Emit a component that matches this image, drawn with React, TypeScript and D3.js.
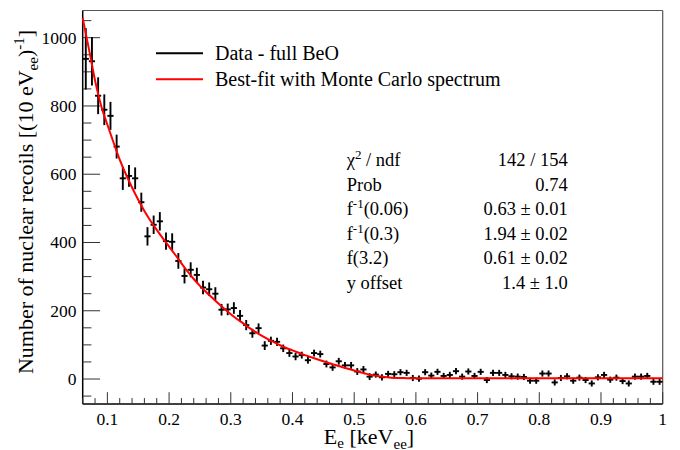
import React from "react";
import * as d3 from "d3";

// ---- data ----
const binWidth = 0.01;
const binStart = 0.06;
const counts = [
  938, 931, 830, 789, 771, 681, 588, 595, 588, 518,
  418, 452, 462, 404, 402, 346, 302, 320, 305, 268,
  263, 250, 203, 204, 208, 185, 158, 134, 149, 98,
  112, 109, 90, 76, 66, 70, 55, 76, 73, 44,
  34, 52, 40, 40, 22, 28, 7, 13, 5, 15,
  14, 20, 18, 3, 1, 20, 10, 21, 9, 12,
  23, 7, 22, 9, 21, -3, 18, 18, 12, 8,
  7, 6, -5, -5, 16, 16, -10, 3, 8, -5,
  4, -3, -13, 5, 12, -2, 4, -6, -13, 7,
  7, 9, -8, -8,
];
const errors = [
  90, 71, 54, 45, 41, 35, 34, 32, 32, 28,
  27, 27, 27, 25, 25, 23, 22, 22, 21, 20,
  20, 19, 17, 17, 17, 17, 15, 13, 14, 13,
  12, 12, 11, 11, 11, 10, 10, 10, 10, 10,
  10, 10, 10, 10, 10, 10, 10, 9, 9, 9,
  9, 9, 9, 9, 9, 9, 9, 9, 9, 9,
  9, 9, 9, 9, 9, 9, 9, 9, 9, 9,
  9, 9, 9, 9, 9, 9, 9, 9, 9, 9,
  9, 9, 9, 9, 9, 9, 9, 9, 9, 9,
  9, 9, 9, 9,
];
const fitE = [
  0.06, 0.065, 0.07, 0.08, 0.09, 0.1, 0.11, 0.12, 0.13, 0.14,
  0.15, 0.16, 0.17, 0.18, 0.19, 0.2, 0.21, 0.22, 0.23, 0.24,
  0.25, 0.26, 0.27, 0.28, 0.29, 0.3, 0.31, 0.32, 0.33, 0.34,
  0.35, 0.36, 0.37, 0.38, 0.39, 0.4, 0.41, 0.42, 0.43, 0.44,
  0.45, 0.46, 0.47, 0.48, 0.49, 0.5, 0.51, 0.52, 0.53, 0.54,
  0.55, 0.56, 0.58, 0.6, 0.65, 0.7, 0.8, 0.9, 1.0,
];
const fitN = [
  1058, 1012, 968, 875, 800, 745, 693, 643, 600, 561,
  525, 492, 463, 437, 412, 388, 364, 339, 315, 293,
  273, 255, 238, 221, 205, 190, 176, 163, 150, 138,
  127, 117, 108, 99, 91, 84, 77, 70, 64, 58,
  52, 46, 41, 35, 30, 25, 20, 15, 11, 8,
  6, 4, 3, 2, 2, 2, 2, 2, 2,
];
const xTicks = [0.1, 0.2, 0.3, 0.4, 0.5, 0.6, 0.7, 0.8, 0.9, 1];
const xTickLabels = ["0.1", "0.2", "0.3", "0.4", "0.5", "0.6", "0.7", "0.8", "0.9", "1"];
const yTicks = [0, 200, 400, 600, 800, 1000];
const legendLabels = ["Data - full BeO", "Best-fit with Monte Carlo spectrum"];
const statNames = ["chi2", "Prob", "finv006", "finv03", "f32", "yoff"];
const statValues = ["142 / 154", "0.74", "0.63 \u00b1 0.01", "1.94 \u00b1 0.02", "0.61 \u00b1 0.02", "1.4 \u00b1 1.0"];

const W = 680;
const H = 450;
const L = 82.7, R = 662.7, T = 10.5, B = 404;
const FONT = "'Liberation Serif', 'Times New Roman', serif";

export default function App() {
  const x = d3.scaleLinear().domain([0.06, 1.0]).range([L, R]);
  const y = d3.scaleLinear().domain([-73.2, 1079.7]).range([B, T]);

  const minorX = d3.range(0.06, 1.0001, 0.02).map((v) => +v.toFixed(3));
  const minorY = d3.range(-50, 1051, 50);

  const fitLine = d3
    .line<number>()
    .x((_, i) => x(fitE[i]))
    .y((d) => y(d))
    .curve(d3.curveMonotoneX);

  const statLabel = (k: string) => {
    switch (k) {
      case "chi2":
        return (
          <>
            {"\u03c7"}
            <tspan dy={-7} fontSize={13}>2</tspan>
            <tspan dy={7}>{" / ndf"}</tspan>
          </>
        );
      case "Prob":
        return <>Prob</>;
      case "finv006":
        return (
          <>
            f<tspan dy={-7} fontSize={13}>-1</tspan>
            <tspan dy={7}>(0.06)</tspan>
          </>
        );
      case "finv03":
        return (
          <>
            f<tspan dy={-7} fontSize={13}>-1</tspan>
            <tspan dy={7}>(0.3)</tspan>
          </>
        );
      case "f32":
        return <>f(3.2)</>;
      default:
        return <>y offset</>;
    }
  };

  return (
    <svg
      width={W}
      height={H}
      style={{ position: "absolute", left: 0, top: 0, background: "#fff" }}
      fontFamily={FONT}
    >
      <rect x={0} y={0} width={W} height={H} fill="#fff" />
      {/* frame */}
      <line x1={L} x2={R} y1={T} y2={T} stroke="#555" strokeWidth={1} />
      <line x1={R} x2={R} y1={T} y2={B} stroke="#555" strokeWidth={1.2} />
      <line x1={L} x2={L} y1={T} y2={B} stroke="#000" strokeWidth={1.5} />
      <line x1={L} x2={R} y1={B} y2={B} stroke="#000" strokeWidth={1.5} />

      {/* x ticks */}
      {minorX.map((v) => {
        const major = xTicks.some((t) => Math.abs(t - v) < 1e-6);
        return (
          <line key={"xm" + v} x1={x(v)} x2={x(v)} y1={B} y2={B - (major ? 11.8 : 5.9)} stroke="#333" strokeWidth={1} />
        );
      })}
      {xTicks.map((t, i) => (
        <text key={"xl" + t} x={x(t)} y={425} fontSize={17.5} textAnchor="middle" fill="#000">
          {xTickLabels[i]}
        </text>
      ))}

      {/* y ticks */}
      {minorY.map((v) => {
        const major = v % 200 === 0;
        return (
          <line key={"ym" + v} x1={L} x2={L + (major ? 17.4 : 8.7)} y1={y(v)} y2={y(v)} stroke="#333" strokeWidth={1} />
        );
      })}
      {yTicks.map((t) => (
        <text key={"yl" + t} x={76.5} y={y(t)} dy="0.34em" fontSize={17.5} textAnchor="end" fill="#000">
          {t}
        </text>
      ))}

      {/* axis titles */}
      <text x={369} y={444} fontSize={22} textAnchor="middle" fill="#000">
        E<tspan dy={4} fontSize={15}>e</tspan>
        <tspan dy={-4}>{" [keV"}</tspan>
        <tspan dy={5} fontSize={15}>ee</tspan>
        <tspan dy={-5}>]</tspan>
      </text>
      <text transform="translate(33,202) rotate(-90)" fontSize={22} textAnchor="middle" fill="#000">
        {"Number of nuclear recoils [(10 eV"}
        <tspan dy={5} fontSize={15}>ee</tspan>
        <tspan dy={-5}>)</tspan>
        <tspan dy={-9} fontSize={15}>-1</tspan>
        <tspan dy={9}>]</tspan>
      </text>

      {/* data */}
      <g stroke="#000" strokeWidth={1.9}>
        {counts.map((v, i) => {
          const lo = binStart + i * binWidth;
          const c = lo + binWidth / 2;
          const e = errors[i];
          return (
            <g key={"d" + i}>
              <line x1={x(lo)} x2={x(lo + binWidth)} y1={y(v)} y2={y(v)} />
              <line x1={x(c)} x2={x(c)} y1={y(v - e)} y2={y(v + e)} />
            </g>
          );
        })}
      </g>

      {/* fit */}
      <path d={fitLine(fitN) || ""} fill="none" stroke="#ff0000" strokeWidth={2} />

      {/* legend */}
      <line x1={156} x2={203} y1={53.3} y2={53.3} stroke="#000" strokeWidth={2} />
      <text x={215} y={59.5} fontSize={20} fill="#000">{legendLabels[0]}</text>
      <line x1={156} x2={203} y1={79.3} y2={79.3} stroke="#ff0000" strokeWidth={2} />
      <text x={215} y={85.5} fontSize={20} fill="#000">{legendLabels[1]}</text>

      {/* stats */}
      {statNames.map((k, i) => (
        <g key={k}>
          <text x={346.7} y={166 + i * 24.6} fontSize={18.5} fill="#000">
            {statLabel(k)}
          </text>
          <text x={567.7} y={166 + i * 24.6} fontSize={18.5} textAnchor="end" fill="#000">
            {statValues[i]}
          </text>
        </g>
      ))}
    </svg>
  );
}
